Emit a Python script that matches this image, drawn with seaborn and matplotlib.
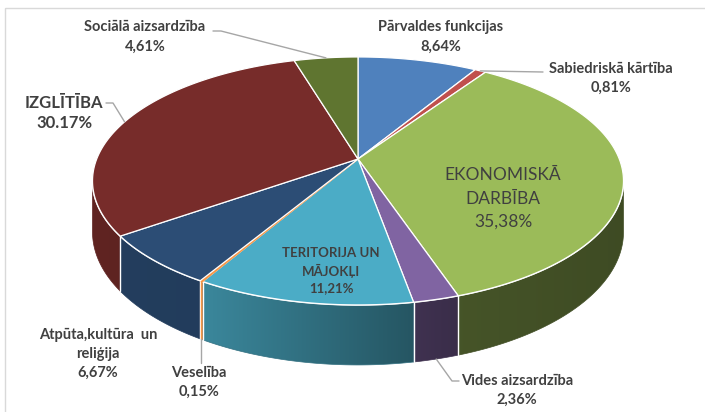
import numpy as np
import matplotlib
matplotlib.use("Agg")
import matplotlib.pyplot as plt
import matplotlib.patches as mpatches
from matplotlib.path import Path
import seaborn as sns

# data (clockwise from 12 o'clock)
categories = ["Pārvaldes funkcijas", "Sabiedriskā kārtība", "Ekonomiskā darbība",
              "Vides aizsardzība", "Teritorija un mājokļi", "Veselība",
              "Atpūta, kultūra un reliģija", "Izglītība", "Sociālā aizsardzība"]
shares = [8.64, 0.81, 35.38, 2.36, 11.21, 0.15, 6.67, 30.17, 4.61]
label_lines = [
    ["Pārvaldes funkcijas", "8,64%"],
    ["Sabiedriskā kārtība", "0,81%"],
    ["EKONOMISKĀ", "DARBĪBA", "35,38%"],
    ["Vides aizsardzība", "2,36%"],
    ["TERITORIJA UN", "MĀJOKĻI", "11,21%"],
    ["Veselība", "0,15%"],
    ["Atpūta,kultūra  un", "reliģija", "6,67%"],
    ["IZGLĪTĪBA", "30.17%"],
    ["Sociālā aizsardzība", "4,61%"],
]
colors = ["#4F81BD", "#C0504D", "#9BBB59", "#8064A2", "#4BACC6",
          "#F79646", "#2C4D75", "#772C2A", "#5F7530"]

sns.set_style("white")
plt.rcParams['font.family'] = ['Lato', 'DejaVu Sans']

W, Hpx = 705, 412
fig = plt.figure(figsize=(W / 100, Hpx / 100), dpi=100)
ax = fig.add_axes([0, 0, 1, 1])
ax.axis("off")

# projection of a tilted disc with a little perspective (pixel units)
CX, CY = 358.0, 159.0
A, B, K = 261.3, 120.1, 0.177
H0 = 49.4


def proj(phi, drop=0.0):
    u = np.sin(phi)
    v = np.cos(phi)
    w = 1 + K * v
    return CX + A * u / w, CY - B * v / w + drop * H0 / w


def shade(x):
    return np.interp(x, [90, 200, 420, 460, 630], [0.80, 0.79, 0.49, 0.45, 0.40])


edges = np.concatenate([[0], np.cumsum(shares)]) / sum(shares) * 2 * np.pi
vis_lo = np.arccos(-K)
vis_hi = 2 * np.pi - vis_lo
pal = sns.color_palette(colors)

# side walls, shaded left to right
for i in range(len(shares)):
    a, b = max(edges[i], vis_lo), min(edges[i + 1], vis_hi)
    if b <= a:
        continue
    ts = np.linspace(a, b, max(3, int(np.degrees(b - a)) * 2 + 3))
    xt, yt = proj(ts)
    xb, yb = proj(ts[::-1], 1)
    verts = np.column_stack([np.concatenate([xt, xb]), np.concatenate([yt, yb])])
    poly = mpatches.Polygon(verts, closed=True, fc="none", ec="none", transform=ax.transData)
    ax.add_patch(poly)
    x0, x1 = verts[:, 0].min() - 1, verts[:, 0].max() + 1
    y0, y1 = verts[:, 1].min() - 1, verts[:, 1].max() + 1
    cols = np.linspace(x0, x1, 200)
    base = np.array(pal[i])
    strip = base[None, :] * shade(cols)[:, None]
    img = np.repeat(strip[None, :, :], 4, axis=0)
    im = ax.imshow(img, extent=(x0, x1, y1, y0), origin="upper",
                   interpolation="bilinear", zorder=1)
    im.set_clip_path(poly)
    # soft edge on the bottom outline
    ax.add_patch(mpatches.Polygon(verts, closed=True, fc="none",
                                  ec=base * shade(verts[:, 0].mean()), lw=0.5, zorder=1.2))

ax.set_aspect("auto")
ax.set_xlim(0, W)
ax.set_ylim(Hpx, 0)

# white seams on the walls
for e in edges:
    if vis_lo < e < vis_hi:
        xa, ya = proj(e)
        xb, yb = proj(e, 1)
        ax.plot([xa, xb], [ya, yb], color="white", lw=1.0, zorder=2)
ts = np.linspace(vis_lo, vis_hi, 200)
xs, ys = proj(ts)
ax.plot(xs, ys, color="white", lw=1.2, zorder=2)

# top faces
for i in range(len(shares)):
    n = max(3, int(np.degrees(edges[i + 1] - edges[i])) + 2)
    ts = np.linspace(edges[i], edges[i + 1], n)
    xs, ys = proj(ts)
    px = np.concatenate([[CX], xs])
    py = np.concatenate([[CY], ys])
    ec = pal[i] if shares[i] < 0.5 else "white"
    ax.fill(px, py, color=pal[i], ec=ec, lw=0.9, zorder=3)

# thin orange sliver on the wall
mid5 = (edges[5] + edges[6]) / 2
xa, ya = proj(mid5)
xb, yb = proj(mid5, 1)
ax.plot([xa, xb], [ya, yb], color=pal[5], lw=1.0, zorder=2.5)

# leader lines (anchored on slice midpoints)
gray = "#A6A6A6"
mids = (edges[:-1] + edges[1:]) / 2
x, y = proj(mids[8])
ax.plot([213, 221, x], [31, 31, y], color=gray, lw=1, zorder=4)
x, y = proj(mids[7])
ax.plot([106, 113, x], [103, 103, y], color=gray, lw=1, zorder=4)
x, y = proj(mids[1])
ax.plot([x, 543], [y, 72], color=gray, lw=1, zorder=4)
x, y = proj(mids[5], 1)
ax.plot([x, x], [y, 363], color=gray, lw=1, zorder=4)
x, y = proj(mids[3], 1)
ax.plot([x, 452, 459], [y, 381, 381], color=gray, lw=1, zorder=4)

# labels: (x centre, first line y, line pitch, size, weight)
label_pos = [
    (441, 27, 20, 10.5, "bold"),
    (611, 69, 19, 10.5, "bold"),
    (503, 175, 23.5, 12.5, "normal"),
    (517, 381, 19, 10.5, "bold"),
    (331, 253, 17.5, 9.5, "bold"),
    (199, 373, 19, 10.5, "bold"),
    (98, 335, 19, 10.5, "bold"),
    (64, 103, 20, 12, "bold"),
    (145, 27, 20, 10.5, "bold"),
]
for lines, (lx, ly, pitch, size, weight) in zip(label_lines, label_pos):
    for j, s in enumerate(lines):
        ax.text(lx, ly + j * pitch, s, ha="center", va="center", fontsize=size,
                fontweight=weight, color="#404040", zorder=5)

# chart area border
ax.add_patch(mpatches.Rectangle((5, 8), 720, 420, fill=False, ec="#D9D9D9", lw=1, zorder=6))

fig.savefig("out.png", dpi=100)
